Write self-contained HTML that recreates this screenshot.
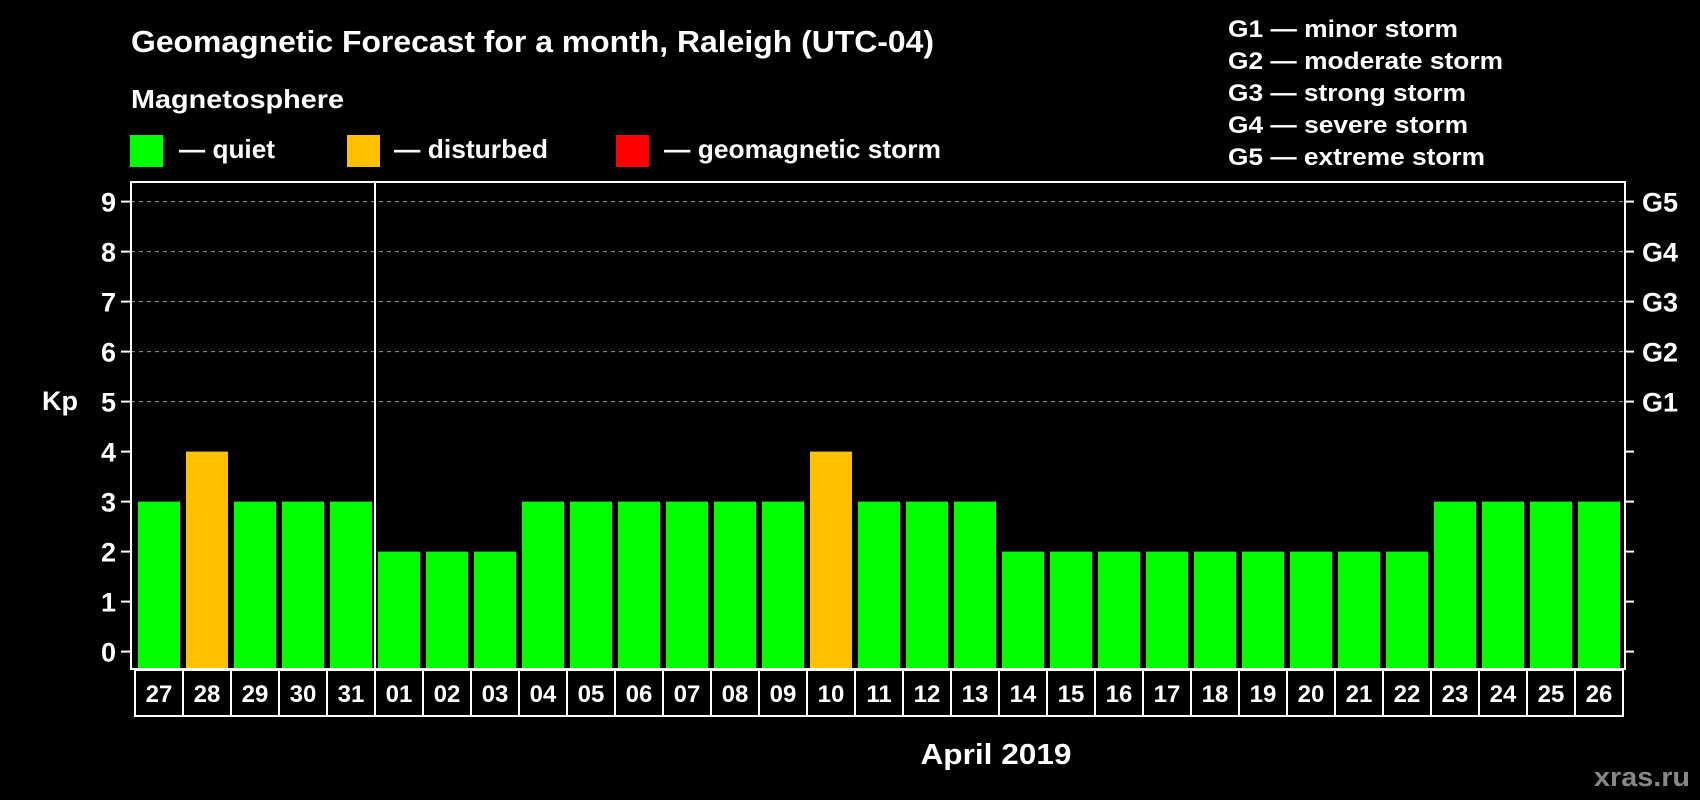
<!DOCTYPE html>
<html><head><meta charset="utf-8"><style>
html,body{margin:0;padding:0;background:#000;}
svg{display:block;font-family:"Liberation Sans",Arial,sans-serif;font-weight:bold;}
</style></head><body>
<svg id="chart" width="1700" height="800" viewBox="0 0 1700 800">
<rect x="0" y="0" width="1700" height="800" fill="#000"/>
<text x="131" y="52" font-size="31" fill="#fff" textLength="803" lengthAdjust="spacingAndGlyphs">Geomagnetic Forecast for a month, Raleigh (UTC-04)</text>
<text x="131" y="108" font-size="26" fill="#fff" textLength="213" lengthAdjust="spacingAndGlyphs">Magnetosphere</text>
<g>
<rect x="130" y="135" width="33" height="32" fill="#00ff00"/>
<text x="179" y="158" font-size="26" fill="#fff" textLength="96" lengthAdjust="spacingAndGlyphs">— quiet</text></g>
<g>
<rect x="347" y="135" width="33" height="32" fill="#ffc000"/>
<text x="394" y="158" font-size="26" fill="#fff" textLength="154" lengthAdjust="spacingAndGlyphs">— disturbed</text></g>
<g>
<rect x="616" y="135" width="33" height="32" fill="#ff0000"/>
<text x="664" y="158" font-size="26" fill="#fff" textLength="277" lengthAdjust="spacingAndGlyphs">— geomagnetic storm</text></g>
<g font-size="24" fill="#fff">
<text x="1228" y="37" textLength="230" lengthAdjust="spacingAndGlyphs">G1 — minor storm</text>
<text x="1228" y="69" textLength="275" lengthAdjust="spacingAndGlyphs">G2 — moderate storm</text>
<text x="1228" y="101" textLength="238" lengthAdjust="spacingAndGlyphs">G3 — strong storm</text>
<text x="1228" y="133" textLength="240" lengthAdjust="spacingAndGlyphs">G4 — severe storm</text>
<text x="1228" y="165" textLength="257" lengthAdjust="spacingAndGlyphs">G5 — extreme storm</text>
</g>
<text x="42" y="410" font-size="27" fill="#fff">Kp</text>
<g id="grid"></g><g id="bars"></g><g id="axes"></g><g id="dates"></g>
<text x="996" y="764" font-size="29" fill="#fff" text-anchor="middle" textLength="151" lengthAdjust="spacingAndGlyphs">April 2019</text>
<text x="1690" y="786" font-size="27" fill="#888" text-anchor="end" textLength="96" lengthAdjust="spacingAndGlyphs">xras.ru</text>
</svg>
<script>
const days = ["27","28","29","30","31","01","02","03","04","05","06","07","08","09","10","11","12","13","14","15","16","17","18","19","20","21","22","23","24","25","26"];
const kpValues = [3,4,3,3,3,2,2,2,3,3,3,3,3,3,4,3,3,3,2,2,2,2,2,2,2,2,2,3,3,3,3];
const yTicks = [0,1,2,3,4,5,6,7,8,9];
const gLabels = ["G1","G2","G3","G4","G5"];
const gLevels = [5,6,7,8,9];
const monthBreakIndex = 5;

const NS="http://www.w3.org/2000/svg";
const L=131,R=1625,T=182,B=669, slot0=135, pitch=48, DB=670, DH=46;
function y(v){return 651.6-50*v;}
function x(i){return slot0+pitch*i;}
function mk(tag,attrs,parent){const e=document.createElementNS(NS,tag);for(const k in attrs)e.setAttribute(k,attrs[k]);parent.appendChild(e);return e;}
const grid=document.getElementById('grid'),bars=document.getElementById('bars'),axes=document.getElementById('axes'),dates=document.getElementById('dates');

gLevels.forEach((v,i)=>{
  const ln=mk('line',{x1:L,x2:R,y1:y(v),y2:y(v),stroke:'#999','stroke-width':1,'stroke-dasharray':'4,4'},grid);
  
  
  const t=mk('text',{x:1642,y:y(v)+10,'font-size':27,fill:'#fff'},axes);
  t.textContent=gLabels[i];
  
  
});
kpValues.forEach((v,i)=>{
  const r=mk('rect',{x:x(i)+3,y:y(v),width:42,height:B-1-y(v),fill:v>=5?'#ff0000':(v>=4?'#ffc000':'#00ff00')},bars);
  
  
});
yTicks.forEach(v=>{
  const tl=mk('line',{x1:121,x2:L,y1:y(v),y2:y(v),stroke:'#fff','stroke-width':2},axes);
  
  
  const tr=mk('line',{x1:R,x2:1634,y1:y(v),y2:y(v),stroke:'#fff','stroke-width':2},axes);
  
  
  const t=mk('text',{x:116,y:y(v)+10,'font-size':27,fill:'#fff','text-anchor':'end'},axes);
  t.textContent=v;
  
  
});
const fr=mk('rect',{x:L,y:T,width:R-L,height:B-T,fill:'none',stroke:'#fff','stroke-width':2},axes);


const mb=mk('line',{x1:x(monthBreakIndex),x2:x(monthBreakIndex),y1:T,y2:DB+DH,stroke:'#fff','stroke-width':2},axes);


days.forEach((d,i)=>{
  const b=mk('rect',{x:x(i),y:DB,width:pitch,height:DH,fill:'none',stroke:'#fff','stroke-width':2},dates);
  
  
  const t=mk('text',{x:x(i)+pitch/2,y:DB+32,'font-size':24,fill:'#fff','text-anchor':'middle'},dates);
  t.textContent=d;
  
  
});
</script>
</body></html>
